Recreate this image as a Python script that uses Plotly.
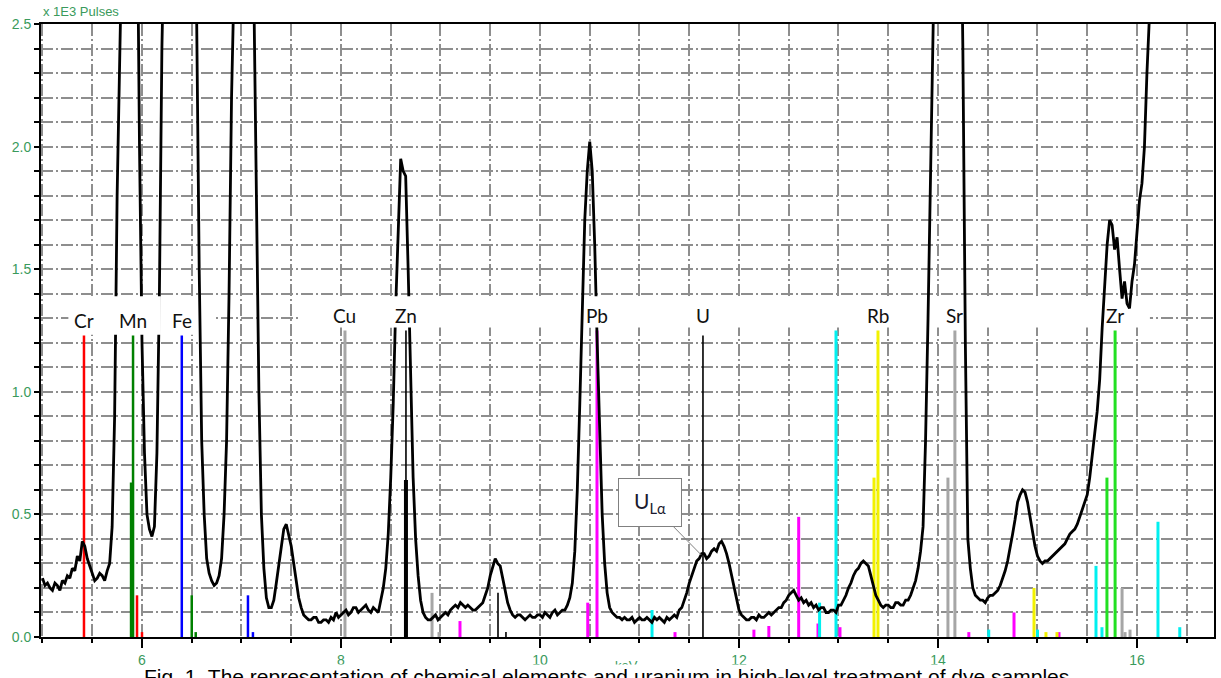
import plotly.graph_objects as go

# ---------------- data ----------------
spectrum_kev = [
    5.000, 5.025, 5.050, 5.075, 5.100, 5.125, 5.150, 5.175, 5.200, 5.225, 5.250, 5.275, 5.300, 5.325, 5.350, 5.375, 5.400, 5.425, 5.450, 5.475,
    5.500, 5.525, 5.550, 5.575, 5.600, 5.625, 5.650, 5.675, 5.700, 5.725, 5.750, 5.775, 5.800, 5.825, 5.850, 5.875, 5.900, 5.925, 5.950, 5.975,
    6.000, 6.025, 6.050, 6.075, 6.100, 6.125, 6.150, 6.175, 6.200, 6.225, 6.250, 6.275, 6.300, 6.325, 6.350, 6.375, 6.400, 6.425, 6.450, 6.475,
    6.500, 6.525, 6.550, 6.575, 6.600, 6.625, 6.650, 6.675, 6.700, 6.725, 6.750, 6.775, 6.800, 6.825, 6.850, 6.875, 6.900, 6.925, 6.950, 6.975,
    7.000, 7.025, 7.050, 7.075, 7.100, 7.125, 7.150, 7.175, 7.200, 7.225, 7.250, 7.275, 7.300, 7.325, 7.350, 7.375, 7.400, 7.425, 7.450, 7.475,
    7.500, 7.525, 7.550, 7.575, 7.600, 7.625, 7.650, 7.675, 7.700, 7.725, 7.750, 7.775, 7.800, 7.825, 7.850, 7.875, 7.900, 7.925, 7.950, 7.975,
    8.000, 8.025, 8.050, 8.075, 8.100, 8.125, 8.150, 8.175, 8.200, 8.225, 8.250, 8.275, 8.300, 8.325, 8.350, 8.375, 8.400, 8.425, 8.450, 8.475,
    8.500, 8.525, 8.550, 8.575, 8.600, 8.625, 8.650, 8.675, 8.700, 8.725, 8.750, 8.775, 8.800, 8.825, 8.850, 8.875, 8.900, 8.925, 8.950, 8.975,
    9.000, 9.025, 9.050, 9.075, 9.100, 9.125, 9.150, 9.175, 9.200, 9.225, 9.250, 9.275, 9.300, 9.325, 9.350, 9.375, 9.400, 9.425, 9.450, 9.475,
    9.500, 9.525, 9.550, 9.575, 9.600, 9.625, 9.650, 9.675, 9.700, 9.725, 9.750, 9.775, 9.800, 9.825, 9.850, 9.875, 9.900, 9.925, 9.950, 9.975,
    10.000, 10.025, 10.050, 10.075, 10.100, 10.125, 10.150, 10.175, 10.200, 10.225, 10.250, 10.275, 10.300, 10.325, 10.350, 10.375, 10.400, 10.425, 10.450, 10.475,
    10.500, 10.525, 10.550, 10.575, 10.600, 10.625, 10.650, 10.675, 10.700, 10.725, 10.750, 10.775, 10.800, 10.825, 10.850, 10.875, 10.900, 10.925, 10.950, 10.975,
    11.000, 11.025, 11.050, 11.075, 11.100, 11.125, 11.150, 11.175, 11.200, 11.225, 11.250, 11.275, 11.300, 11.325, 11.350, 11.375, 11.400, 11.425, 11.450, 11.475,
    11.500, 11.525, 11.550, 11.575, 11.600, 11.625, 11.650, 11.675, 11.700, 11.725, 11.750, 11.775, 11.800, 11.825, 11.850, 11.875, 11.900, 11.925, 11.950, 11.975,
    12.000, 12.025, 12.050, 12.075, 12.100, 12.125, 12.150, 12.175, 12.200, 12.225, 12.250, 12.275, 12.300, 12.325, 12.350, 12.375, 12.400, 12.425, 12.450, 12.475,
    12.500, 12.525, 12.550, 12.575, 12.600, 12.625, 12.650, 12.675, 12.700, 12.725, 12.750, 12.775, 12.800, 12.825, 12.850, 12.875, 12.900, 12.925, 12.950, 12.975,
    13.000, 13.025, 13.050, 13.075, 13.100, 13.125, 13.150, 13.175, 13.200, 13.225, 13.250, 13.275, 13.300, 13.325, 13.350, 13.375, 13.400, 13.425, 13.450, 13.475,
    13.500, 13.525, 13.550, 13.575, 13.600, 13.625, 13.650, 13.675, 13.700, 13.725, 13.750, 13.775, 13.800, 13.825, 13.850, 13.875, 13.900, 13.925, 13.950, 13.975,
    14.000, 14.025, 14.050, 14.075, 14.100, 14.125, 14.150, 14.175, 14.200, 14.225, 14.250, 14.275, 14.300, 14.325, 14.350, 14.375, 14.400, 14.425, 14.450, 14.475,
    14.500, 14.525, 14.550, 14.575, 14.600, 14.625, 14.650, 14.675, 14.700, 14.725, 14.750, 14.775, 14.800, 14.825, 14.850, 14.875, 14.900, 14.925, 14.950, 14.975,
    15.000, 15.025, 15.050, 15.075, 15.100, 15.125, 15.150, 15.175, 15.200, 15.225, 15.250, 15.275, 15.300, 15.325, 15.350, 15.375, 15.400, 15.425, 15.450, 15.475,
    15.500, 15.525, 15.550, 15.575, 15.600, 15.625, 15.650, 15.675, 15.700, 15.725, 15.750, 15.775, 15.800, 15.825, 15.850, 15.875, 15.900, 15.925, 15.950, 15.975,
    16.000, 16.025, 16.050, 16.075, 16.100, 16.125, 16.150, 16.175, 16.200, 16.225, 16.250, 16.275, 16.300, 16.325, 16.350, 16.375, 16.400, 16.425, 16.450, 16.475,
    16.500, 16.525, 16.550, 16.575, 16.600, 16.625, 16.650, 16.675, 16.700, 16.725, 16.750, 16.775, 16.800,
]
spectrum_counts = [  # x 1E3 pulses
    0.24, 0.21, 0.22, 0.20, 0.19, 0.22, 0.21, 0.19, 0.23, 0.22, 0.25, 0.24, 0.28, 0.27, 0.33, 0.31, 0.39, 0.37, 0.32, 0.29,
    0.26, 0.23, 0.24, 0.26, 0.25, 0.23, 0.27, 0.30, 0.45, 0.90, 1.80, 2.40, 2.90, 4.00, 5.00, 5.00, 5.00, 4.20, 3.00, 2.00,
    1.20, 0.75, 0.50, 0.44, 0.41, 0.45, 0.75, 1.40, 2.40, 3.20, 4.00, 5.00, 6.00, 6.30, 6.50, 6.50, 6.50, 6.30, 6.00, 5.00,
    4.00, 3.20, 2.50, 1.50, 0.80, 0.50, 0.32, 0.26, 0.23, 0.21, 0.22, 0.25, 0.32, 0.50, 0.80, 1.40, 2.20, 3.20, 4.00, 4.50,
    5.00, 5.00, 5.00, 5.00, 3.50, 2.60, 1.80, 1.00, 0.50, 0.28, 0.16, 0.12, 0.12, 0.15, 0.22, 0.30, 0.37, 0.44, 0.46, 0.42,
    0.37, 0.30, 0.22, 0.16, 0.12, 0.09, 0.08, 0.07, 0.07, 0.08, 0.08, 0.06, 0.06, 0.07, 0.07, 0.06, 0.08, 0.07, 0.10, 0.08,
    0.09, 0.10, 0.11, 0.09, 0.10, 0.12, 0.12, 0.10, 0.11, 0.12, 0.13, 0.11, 0.10, 0.12, 0.11, 0.10, 0.15, 0.20, 0.28, 0.42,
    0.65, 0.95, 1.35, 1.70, 1.95, 1.90, 1.88, 1.50, 1.00, 0.65, 0.40, 0.25, 0.15, 0.10, 0.08, 0.07, 0.07, 0.08, 0.09, 0.07,
    0.08, 0.09, 0.10, 0.09, 0.11, 0.12, 0.13, 0.12, 0.14, 0.13, 0.12, 0.13, 0.12, 0.11, 0.11, 0.12, 0.13, 0.14, 0.17, 0.20,
    0.25, 0.29, 0.32, 0.30, 0.29, 0.24, 0.19, 0.14, 0.11, 0.09, 0.08, 0.09, 0.09, 0.08, 0.07, 0.08, 0.09, 0.08, 0.08, 0.09,
    0.09, 0.08, 0.10, 0.09, 0.08, 0.10, 0.11, 0.09, 0.10, 0.11, 0.11, 0.13, 0.16, 0.22, 0.35, 0.60, 0.95, 1.30, 1.70, 1.90,
    2.02, 1.90, 1.60, 1.20, 0.80, 0.50, 0.30, 0.18, 0.12, 0.10, 0.09, 0.08, 0.08, 0.07, 0.08, 0.07, 0.07, 0.08, 0.06, 0.07,
    0.08, 0.07, 0.07, 0.08, 0.07, 0.06, 0.08, 0.07, 0.08, 0.07, 0.06, 0.08, 0.07, 0.08, 0.09, 0.08, 0.11, 0.12, 0.15, 0.18,
    0.22, 0.25, 0.28, 0.31, 0.32, 0.34, 0.34, 0.32, 0.33, 0.35, 0.36, 0.35, 0.38, 0.39, 0.37, 0.34, 0.30, 0.25, 0.20, 0.15,
    0.11, 0.09, 0.08, 0.07, 0.07, 0.08, 0.08, 0.07, 0.09, 0.08, 0.08, 0.09, 0.10, 0.09, 0.10, 0.11, 0.12, 0.12, 0.14, 0.15,
    0.17, 0.18, 0.19, 0.17, 0.15, 0.16, 0.14, 0.15, 0.13, 0.14, 0.12, 0.13, 0.11, 0.12, 0.12, 0.10, 0.10, 0.11, 0.11, 0.10,
    0.13, 0.13, 0.15, 0.17, 0.20, 0.22, 0.25, 0.27, 0.28, 0.30, 0.31, 0.30, 0.29, 0.25, 0.21, 0.17, 0.15, 0.13, 0.12, 0.13,
    0.13, 0.12, 0.12, 0.14, 0.14, 0.13, 0.13, 0.15, 0.15, 0.17, 0.20, 0.23, 0.28, 0.35, 0.45, 0.80, 1.30, 2.20, 3.50, 5.00,
    6.00, 6.50, 6.50, 6.50, 6.50, 6.50, 6.00, 5.50, 4.00, 3.20, 2.40, 1.20, 0.40, 0.28, 0.20, 0.17, 0.16, 0.15, 0.15, 0.14,
    0.16, 0.17, 0.17, 0.18, 0.19, 0.21, 0.24, 0.27, 0.31, 0.36, 0.42, 0.48, 0.55, 0.58, 0.60, 0.59, 0.55, 0.49, 0.42, 0.37,
    0.33, 0.31, 0.30, 0.31, 0.31, 0.32, 0.33, 0.34, 0.35, 0.36, 0.37, 0.38, 0.40, 0.42, 0.43, 0.44, 0.46, 0.49, 0.52, 0.55,
    0.58, 0.65, 0.75, 0.83, 0.92, 1.05, 1.26, 1.45, 1.60, 1.70, 1.68, 1.58, 1.63, 1.50, 1.38, 1.45, 1.36, 1.34, 1.45, 1.52,
    1.67, 1.78, 1.85, 2.00, 2.30, 2.60, 2.90, 3.20, 3.50, 3.80, 4.00, 4.30, 4.50, 4.80, 5.00, 5.30, 5.50, 5.80, 6.00, 6.00,
    6.00, 6.00, 6.00, 6.00, 6.00, 6.00, 6.00, 6.00, 6.00, 6.00, 6.00, 6.00, 6.00,
]

# element labels
label_elements = ["Cr", "Mn", "Fe", "Cu", "Zn", "Pb", "U", "Rb", "Sr", "Zr"]
label_kev = [5.417, 5.91, 6.40, 8.04, 8.653, 10.573, 11.638, 13.397, 14.17, 15.78]

# emission line markers (energy keV, relative height)
red_kev = [5.417, 5.95, 6.00]
red_h = [1.23, 0.17, 0.02]
green_kev = [5.91, 5.89, 6.50, 6.54]
green_h = [1.23, 0.63, 0.17, 0.02]
blue_kev = [6.40, 7.065, 7.115]
blue_h = [1.23, 0.17, 0.02]
gray_kev = [8.04, 8.915, 8.985, 14.10, 14.17, 15.85, 15.88, 15.93]
gray_h = [1.25, 0.18, 0.02, 0.65, 1.25, 0.20, 0.02, 0.03]
black_kev = [8.653, 9.578, 9.658, 11.638]
black_h = [1.25, 0.18, 0.02, 1.23]
zn_thick_kev = [8.653]
zn_thick_h = [0.64]
magenta_kev = [9.196, 10.48, 10.573, 11.357, 12.15, 12.30, 12.60, 12.794, 13.015, 14.31, 14.764, 15.216]
magenta_h = [0.065, 0.14, 1.25, 0.02, 0.03, 0.045, 0.49, 0.055, 0.04, 0.02, 0.10, 0.02]
cyan_kev = [11.126, 12.81, 12.975, 14.51, 15.00, 15.588, 15.648, 16.211, 16.43]
cyan_h = [0.11, 0.14, 1.25, 0.03, 0.03, 0.29, 0.04, 0.47, 0.04]
yellow_kev = [13.357, 13.397, 14.965, 15.085, 15.196]
yellow_h = [0.65, 1.25, 0.20, 0.02, 0.02]
lime_kev = [15.698, 15.78]
lime_h = [0.65, 1.25]

x_ticks = [6, 8, 10, 12, 14, 16]
y_ticks = [0.0, 0.5, 1.0, 1.5, 2.0, 2.5]

caption = ("Fig. 1. The representation of chemical elements and uranium in "
           "high-level treatment of dye samples")

# ---------------- figure ----------------
GREEN_TXT = "#3a9a5c"
GRID = "#8e8e8e"
DASH = "12px,3px,2px,3px"

fig = go.Figure()


def sticks(kev, h):
    xs, ys = [], []
    for e, v in zip(kev, h):
        xs += [e, e, None]
        ys += [0, v, None]
    return xs, ys


groups = [
    (red_kev, red_h, "#ff0000", 2.5),
    (green_kev, green_h, "#008000", 2.5),
    (blue_kev, blue_h, "#0000ff", 2.5),
    (gray_kev, gray_h, "#a6a6a6", 3),
    (black_kev, black_h, "#000000", 1.6),
    (zn_thick_kev, zn_thick_h, "#000000", 4),
    (magenta_kev, magenta_h, "#ff00ff", 3),
    (cyan_kev, cyan_h, "#00f0f0", 3),
    (yellow_kev, yellow_h, "#f2f200", 3),
    (lime_kev, lime_h, "#22e022", 3),
]
for kev, h, col, w in groups:
    xs, ys = sticks(kev, h)
    fig.add_trace(go.Scatter(x=xs, y=ys, mode="lines", line=dict(color=col, width=w),
                             hoverinfo="skip", showlegend=False))

fig.add_trace(go.Scatter(x=spectrum_kev, y=spectrum_counts, mode="lines",
                         line=dict(color="#000000", width=2.8), showlegend=False))

# white label band (covers grid, under spectrum)
shapes = [
    dict(type="rect", xref="x", yref="y", x0=5.26, x1=6.74, y0=1.233, y1=1.39,
         fillcolor="white", line=dict(width=0), layer="between"),
    dict(type="rect", xref="x", yref="y", x0=7.58, x1=16.13, y0=1.262, y1=1.39,
         fillcolor="white", line=dict(width=0), layer="between"),
    # label boxes that also hide the spectrum line
    dict(type="rect", xref="x", yref="y", x0=5.70, x1=6.19, y0=1.233, y1=1.39,
         fillcolor="white", line=dict(width=0), layer="above"),
    dict(type="rect", xref="x", yref="y", x0=8.47, x1=8.84, y0=1.262, y1=1.39,
         fillcolor="white", line=dict(width=0), layer="above"),
    dict(type="rect", xref="x", yref="y", x0=10.47, x1=10.80, y0=1.262, y1=1.39,
         fillcolor="white", line=dict(width=0), layer="above"),
]
fig.update_layout(shapes=shapes)

annotations = []
for name, e in zip(label_elements, label_kev):
    yv = 1.29 if e < 7 else 1.31
    annotations.append(dict(x=e, y=yv, xref="x", yref="y", text=name, showarrow=False,
                            font=dict(family="Lato", size=19, color="#111111")))

# callout
annotations.append(dict(x=11.62, y=0.335, xref="x", yref="y", text="U<sub>Lα</sub>",
                        showarrow=True, arrowhead=0, arrowwidth=1, arrowcolor="#808080",
                        ax=-51, ay=-52, bgcolor="white", bordercolor="#808080", borderwidth=1,
                        width=60, height=45, font=dict(family="Lato", size=21, color="#1a1a2e")))

annotations.append(dict(x=0, y=1, xref="paper", yref="paper", xanchor="left", yanchor="bottom",
                        text="x 1E3 Pulses", showarrow=False, yshift=3,
                        font=dict(family="Liberation Sans", size=13, color=GREEN_TXT)))
annotations.append(dict(x=0.499, y=-0.031, xref="paper", yref="paper", xanchor="center", yanchor="top",
                        text="keV", showarrow=False,
                        font=dict(family="Liberation Sans", size=13, color=GREEN_TXT)))
annotations.append(dict(x=0.4825, y=-0.0435, xref="paper", yref="paper", xanchor="center", yanchor="top",
                        text=caption, showarrow=False, bgcolor="white", borderpad=0,
                        font=dict(family="Liberation Sans", size=21, color="#000000")))
fig.update_layout(annotations=annotations)

fig.update_xaxes(range=[4.985, 16.774], tickmode="array", tickvals=x_ticks,
                 ticktext=[str(v) for v in x_ticks], automargin=False,
                 ticks="outside", ticklen=9, tickwidth=1.5, tickcolor="black",
                 tickfont=dict(family="Liberation Sans", size=14, color=GREEN_TXT),
                 showline=True, linecolor="black", linewidth=2, mirror=True,
                 showgrid=True, gridcolor=GRID, gridwidth=1.5, griddash=DASH, zeroline=False,
                 minor=dict(dtick=0.5, tick0=0, ticks="outside", ticklen=4, tickwidth=1.5, tickcolor="black",
                            showgrid=True, gridcolor=GRID, gridwidth=1.5, griddash=DASH))
fig.update_yaxes(range=[0, 2.5], tickmode="array", tickvals=y_ticks,
                 ticktext=[f"{v:.1f}" for v in y_ticks], automargin=False,
                 ticks="outside", ticklen=5, tickwidth=1.5, tickcolor="black",
                 tickfont=dict(family="Liberation Sans", size=14, color=GREEN_TXT),
                 showline=True, linecolor="black", linewidth=2, mirror=True,
                 showgrid=True, gridcolor=GRID, gridwidth=1.5, griddash=DASH, zeroline=False,
                 minor=dict(dtick=0.1, tick0=0, ticks="outside", ticklen=5, tickwidth=1.5, tickcolor="black",
                            showgrid=True, gridcolor=GRID, gridwidth=1.5, griddash=DASH))

fig.update_layout(width=1221, height=678, autosize=False,
                  margin=dict(l=41, r=7, t=24, b=41, pad=0, autoexpand=False),
                  plot_bgcolor="white", paper_bgcolor="white", showlegend=False)

fig.write_html("out.html", config={"displayModeBar": False},
               post_script="document.body.style.margin='0';document.body.style.overflow='hidden';")
